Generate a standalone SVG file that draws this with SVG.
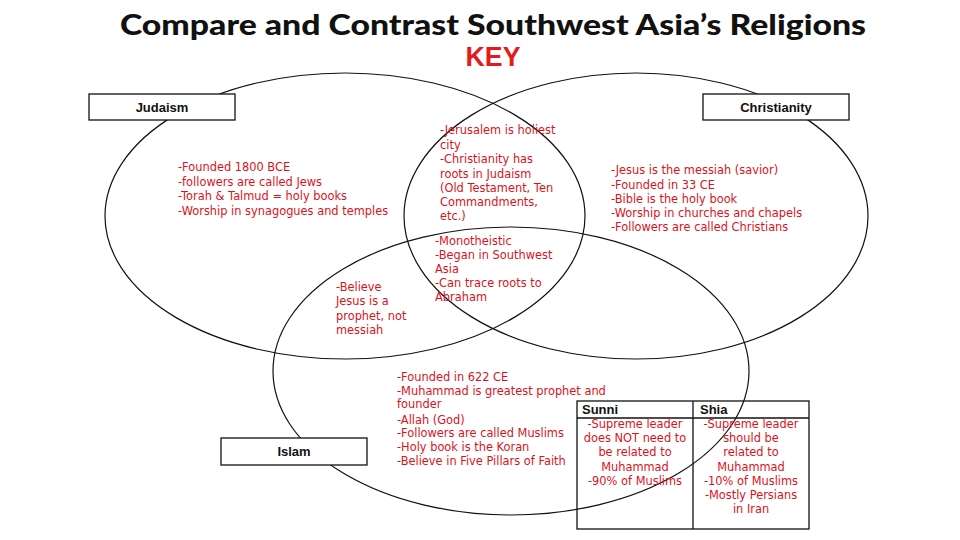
<svg xmlns="http://www.w3.org/2000/svg" width="960" height="540" viewBox="0 0 960 540">
<style>
.ell{fill:none;stroke:#111;stroke-width:1.2}
.box{fill:#fff;stroke:#111;stroke-width:1.3}
.lbl{font-family:"Liberation Sans",Arial,sans-serif;font-weight:bold;font-size:13px;fill:#111;text-anchor:middle}
.red{font-family:"DejaVu Sans","Liberation Sans",sans-serif;font-size:11.4px;fill:#d9131c}
.hdr{font-family:"Liberation Sans",Arial,sans-serif;font-weight:bold;font-size:13px;fill:#111}
.mid{text-anchor:middle}
</style>
<rect width="960" height="540" fill="#fff"/>
<g id="title">
<text x="493" y="35" font-family="Lato,'Liberation Sans',sans-serif" font-weight="900" font-size="28" fill="#111" text-anchor="middle" textLength="746" lengthAdjust="spacingAndGlyphs">Compare and Contrast Southwest Asia’s Religions</text>
<text x="493" y="66" font-family="'Liberation Sans Narrow','Liberation Sans',sans-serif" font-weight="bold" font-size="27" fill="#e41b1b" text-anchor="middle" textLength="55" lengthAdjust="spacingAndGlyphs">KEY</text>
</g>
<g id="circles">
<ellipse class="ell" cx="345" cy="216" rx="240" ry="143"/>
<ellipse class="ell" cx="636" cy="216" rx="232" ry="143"/>
<ellipse class="ell" cx="511" cy="371" rx="238" ry="144"/>
</g>
<g id="judaism">
<rect class="box" x="89" y="94" width="146" height="26"/>
<text class="lbl" x="162" y="112">Judaism</text>
<text class="red"><tspan x="178" y="171">-Founded 1800 BCE</tspan><tspan x="178" y="186">-followers are called Jews</tspan><tspan x="178" y="200">-Torah &amp; Talmud = holy books</tspan><tspan x="178" y="215">-Worship in synagogues and temples</tspan></text>
</g>
<g id="christianity">
<rect class="box" x="703" y="94" width="146" height="26"/>
<text class="lbl" x="776" y="112">Christianity</text>
<text class="red"><tspan x="611" y="174">-Jesus is the messiah (savior)</tspan><tspan x="611" y="189">-Founded in 33 CE</tspan><tspan x="611" y="203">-Bible is the holy book</tspan><tspan x="611" y="217">-Worship in churches and chapels</tspan><tspan x="611" y="231">-Followers are called Christians</tspan></text>
</g>
<g id="judaism-christianity">
<text class="red"><tspan x="440" y="134">-Jerusalem is holiest</tspan><tspan x="440" y="149">city</tspan><tspan x="440" y="163">-Christianity has</tspan><tspan x="440" y="178">roots in Judaism</tspan><tspan x="440" y="192">(Old Testament, Ten</tspan><tspan x="440" y="206">Commandments,</tspan><tspan x="440" y="220">etc.)</tspan></text>
</g>
<g id="all-three">
<text class="red"><tspan x="435" y="245">-Monotheistic</tspan><tspan x="435" y="259">-Began in Southwest</tspan><tspan x="435" y="273">Asia</tspan><tspan x="435" y="287">-Can trace roots to</tspan><tspan x="435" y="301">Abraham</tspan></text>
</g>
<g id="islam-christianity">
<text class="red"><tspan x="336" y="291">-Believe</tspan><tspan x="336" y="305">Jesus is a</tspan><tspan x="336" y="320">prophet, not</tspan><tspan x="336" y="334">messiah</tspan></text>
</g>
<g id="islam">
<rect class="box" x="221" y="438" width="146" height="27"/>
<text class="lbl" x="294" y="456">Islam</text>
<text class="red"><tspan x="397" y="381">-Founded in 622 CE</tspan><tspan x="397" y="395">-Muhammad is greatest prophet and</tspan><tspan x="397" y="408">founder</tspan><tspan x="397" y="424">-Allah (God)</tspan><tspan x="397" y="437">-Followers are called Muslims</tspan><tspan x="397" y="451">-Holy book is the Koran</tspan><tspan x="397" y="465">-Believe in Five Pillars of Faith</tspan></text>
</g>
<g id="sunni-shia-table">
<rect x="577" y="401" width="232" height="128" fill="none" stroke="#111" stroke-width="1.3"/>
<line x1="577" y1="418" x2="809" y2="418" stroke="#111" stroke-width="1.3"/>
<line x1="693" y1="401" x2="693" y2="529" stroke="#111" stroke-width="1.3"/>
<text class="hdr" x="582" y="414">Sunni</text>
<text class="hdr" x="700" y="414">Shia</text>
<text class="red mid"><tspan x="635" y="428">-Supreme leader</tspan><tspan x="635" y="442">does NOT need to</tspan><tspan x="635" y="456">be related to</tspan><tspan x="635" y="471">Muhammad</tspan><tspan x="635" y="485">-90% of Muslims</tspan></text>
<text class="red mid"><tspan x="751" y="428">-Supreme leader</tspan><tspan x="751" y="442">should be</tspan><tspan x="751" y="456">related to</tspan><tspan x="751" y="471">Muhammad</tspan><tspan x="751" y="485">-10% of Muslims</tspan><tspan x="751" y="499">-Mostly Persians</tspan><tspan x="751" y="513">in Iran</tspan></text>
</g>
</svg>
